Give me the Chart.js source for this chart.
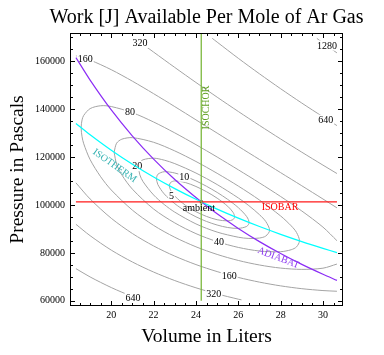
<!DOCTYPE html>
<html><head><meta charset="utf-8">
<script src="https://cdn.jsdelivr.net/npm/chart.js@4.4.0/dist/chart.umd.min.js"></script>
<style>html,body{margin:0;padding:0;background:#fff}</style>
</head><body>
<canvas id="c" width="384" height="355"></canvas>
<script>
// ---- data (V in liters, P in pascals) ----
const chartTitle = 'Work [J] Available Per Mole of Ar Gas';
const xTicks = [20, 22, 24, 26, 28, 30];
const yTicks = [60000, 80000, 100000, 120000, 140000, 160000];
const ambient = [24.25, 101325];

// contour lines of available work [J]
const c5 = [[22.737,108067],[22.8,109386],[23,110058],[23.5,109379],[24,107734],[24.5,105537],[25,102856],[25.5,99470],[25.75,96958],[25.825,95145],[25.75,93886],[25.5,93371],[25,93853],[24.5,95227],[24,97210],[23.5,99896],[23,103734],[22.8,106185],[22.737,108067]];
const c10 = [[22.128,111041],[22.2,112828],[22.5,113891],[23,113359],[23.5,111951],[24,110059],[24.5,107814],[25,105255],[25.5,102342],[26,98899],[26.4,95130],[26.51,92652],[26.4,91081],[26,90243],[25.5,90605],[25,91642],[24.5,93131],[24,95070],[23.5,97501],[23,100561],[22.5,104641],[22.2,108545],[22.128,111041]];
const c20 = [[21.29,115410],[21.35,117609],[21.5,118879],[22,119551],[22.5,118729],[23,117280],[24,113345],[25,108537],[26,102954],[26.5,99732],[27,95956],[27.3,93083],[27.48,89415],[27.3,87053],[27,86209],[26.5,86037],[26,86548],[25,88693],[24,92111],[23,97014],[22.5,100208],[22,104182],[21.5,109759],[21.35,112568],[21.29,115410]];
const c40 = [[20.134,122039],[20.25,125781],[20.5,127484],[21,128110],[22,126185],[23,122579],[24,118167],[25,113225],[26,107906],[27,102080],[28,95415],[28.5,91293],[28.75,88542],[28.89,85051],[28.75,82517],[28.5,81336],[28,80514],[27,80794],[26,82295],[25,84713],[24,88047],[23,92517],[22,98319],[21,106592],[20.5,112549],[20.25,117093],[20.134,122039]];
const c80 = [[30.66,85102],[30,90758],[29,97498],[28,103543],[27,109224],[26,114701],[25,120037],[24,125190],[23,130111],[22,134651],[21,138535],[20,141110],[19.5,141443],[19,140237],[18.7,137429],[18.62,135551],[18.576,132273],[18.62,128478],[18.7,125551],[19,118951],[19.5,111781],[20,106259],[21,97840],[22,91484],[23,86534],[24,82549],[25,79366],[26,76851],[27,74952],[28,73661],[29,73121],[30,73624],[30.66,75349]];
const c160hi = [[18.33,162290],[19,160489],[20,156483],[21,151686],[22,146479],[23,141072],[24,135561],[25,130023],[26,124501],[27,118998],[28,113510],[29,108029],[30,102503],[30.66,98806]];
const c160lo = [[18.33,109251],[19,102514],[20,94452],[21,88082],[22,82906],[23,78650],[24,75126],[25,72201],[26,69764],[27,67799],[28,66237],[29,65064],[30,64278],[30.66,63985]];
const c320hi = [[21.12,169500],[22,163835],[23,157428],[24,151154],[25,145021],[26,139045],[27,133231],[28,127559],[29,122044],[30,116648],[30.66,113143]];
const c320lo = [[18.33,91945],[19,87189],[20,81159],[21,76194],[22,72005],[23,68447],[24,65431],[25,62864],[26,60682],[26.15,60400]];
const c640hi = [[24.77,169580],[25,168010],[26,161249],[27,154772],[28,148541],[29,142557],[30,136813],[30.66,133146]];
const c640lo = [[18.33,73433],[19,69963],[20,65532],[21,61744],[21.4,60400]];
const c1280 = [[29.71,169564],[30,167684],[30.33,165578],[30.66,163505]];

// reference processes through the ambient state
const isothermV = [18.33,19,20,21,22,23,24,25,26,27,28,29,30,30.66];
const isothermP = [134050,129322,122857,117006,111688,106832,102380,98286,94505,91005,87754,84729,81904,80141];
const adiabatV = [18.33,19,20,21,22,23,24.25,25,26,27,28,29,30,30.66];
const adiabatP = [161553,152167,139694,128786,119178,110670,101325,96309,90216,84716,79737,75206,71074,68541];
const isobar = [[18.33,101325],[30.66,101325]];
const isochor = [[24.25,60000],[24.25,175000]];

// contour value labels: [text, V, P]
const contourLabels = [['320',21.36,167635],['1280',30.19,166590],['640',30.13,135612],['160',18.77,161080],['80',20.88,138825],['20',21.23,116284],['10',23.45,111815],['5',22.85,103758],['40',25.09,84553],['160',25.57,70560],['320',24.84,62926],['640',21.03,61300]];
// process labels: [text, V, P]
const processLabels = [['ISOCHOR',24.50,140706],['ISOTHERM',20.16,116367],['ADIABAT',27.89,77872],['ISOBAR',27.97,98956],['ambient',24.14,98539]];

// ---- styling ----
const SERIF = "'Liberation Serif','Times New Roman',serif";
const labelStyle = {
  ISOCHOR: {color:'#5f9f22', angle:-90},
  ISOTHERM: {color:'#35b2b2', angle:35},
  ADIABAT: {color:'#8d3af0', angle:21},
  ISOBAR: {color:'#ff0000', angle:0},
  ambient: {color:'#000000', angle:0}
};

const toPts = arr => arr.map(p => ({x:p[0], y:p[1]}));
const contours = [c5,c10,c20,c40,c80,c160hi,c160lo,c320hi,c320lo,c640hi,c640lo,c1280];
const datasets = contours.map(c => ({
  data: toPts(c), showLine:true, borderColor:'#a4a4a4', borderWidth:1,
  pointRadius:0, tension:0.3, order:1
}));
datasets.push({data: toPts(isochor), showLine:true, borderColor:'#7cb83e', borderWidth:1.3, pointRadius:0, order:0});
datasets.push({data: toPts(isobar), showLine:true, borderColor:'#ff1a1a', borderWidth:1.2, pointRadius:0, order:0});
datasets.push({data: isothermV.map((v,i)=>({x:v,y:isothermP[i]})), showLine:true, borderColor:'#00ffff', borderWidth:1.2, pointRadius:0, tension:0.3, order:0});
datasets.push({data: adiabatV.map((v,i)=>({x:v,y:adiabatP[i]})), showLine:true, borderColor:'#8b2cf5', borderWidth:1.2, pointRadius:0, tension:0.3, order:0});
datasets.push({data: [{x:ambient[0], y:ambient[1]}], showLine:false, pointRadius:2, pointStyle:'rect', backgroundColor:'#000', borderColor:'#000', borderWidth:0, order:0});

const contourLabelPlugin = {
  id:'contourLabels',
  afterDatasetDraw(chart, args) {
    if (args.index !== 0) return;
    const ctx = chart.ctx, xs = chart.scales.x, ys = chart.scales.y;
    ctx.save();
    ctx.font = '10px ' + SERIF;
    ctx.textAlign = 'center'; ctx.textBaseline = 'middle';
    contourLabels.forEach(([t,v,p]) => {
      const x = xs.getPixelForValue(v), y = ys.getPixelForValue(p);
      const w = ctx.measureText(t).width + 2;
      ctx.fillStyle = '#fff';
      ctx.fillRect(x - w/2, y - 5, w, 10);
      ctx.fillStyle = '#000';
      ctx.fillText(t, x, y + 0.5);
    });
    ctx.restore();
  }
};

const framePlugin = {
  id:'frame',
  afterDraw(chart) {
    const ctx = chart.ctx, xs = chart.scales.x, ys = chart.scales.y;
    const {left,right,top,bottom} = chart.chartArea;
    ctx.save();
    // chart title, centred over the frame
    ctx.font = '20px ' + SERIF;
    ctx.fillStyle = '#000';
    ctx.textAlign = 'center'; ctx.textBaseline = 'middle';
    ctx.fillText(chartTitle, (left + right) / 2, 17.5);
    // process labels
    ctx.font = '10px ' + SERIF;
    processLabels.forEach(([t,v,p]) => {
      const st = labelStyle[t];
      ctx.save();
      ctx.translate(xs.getPixelForValue(v), ys.getPixelForValue(p));
      ctx.rotate(st.angle * Math.PI / 180);
      ctx.fillStyle = st.color;
      ctx.fillText(t, 0, 0);
      ctx.restore();
    });
    // frame
    ctx.strokeStyle = '#000'; ctx.lineWidth = 1;
    const L = Math.round(left)+0.5, R = Math.round(right)-0.5, T = Math.round(top)+0.5, B = Math.round(bottom)-0.5;
    ctx.strokeRect(L, T, R-L, B-T);
    // inward ticks on all four sides
    ctx.beginPath();
    const xMin = xs.min, xMax = xs.max, yMin = ys.min, yMax = ys.max;
    for (let v = Math.ceil(xMin*2)/2; v <= xMax; v += 0.5) {
      const major = xTicks.includes(v);
      const len = major ? 4.5 : 2.5;
      const x = Math.round(xs.getPixelForValue(v)) + 0.5;
      ctx.moveTo(x, B); ctx.lineTo(x, B - len);
      ctx.moveTo(x, T); ctx.lineTo(x, T + len);
    }
    for (let v = Math.ceil(yMin/5000)*5000; v <= yMax; v += 5000) {
      const major = yTicks.includes(v);
      const len = major ? 4.5 : 2.5;
      const y = Math.round(ys.getPixelForValue(v)) + 0.5;
      ctx.moveTo(L, y); ctx.lineTo(L + len, y);
      ctx.moveTo(R, y); ctx.lineTo(R - len, y);
    }
    ctx.stroke();
    ctx.restore();
  }
};

const tickFont = {family: SERIF, size: 10};
new Chart(document.getElementById('c'), {
  type: 'scatter',
  data: {datasets},
  options: {
    responsive: false, animation: false, devicePixelRatio: 1,
    layout: {padding: {left:0, right:41, top:33, bottom:0}},
    plugins: {legend: {display:false}, tooltip: {enabled:false}, title: {display:false}},
    scales: {
      x: {
        type:'linear', min:18.05, max:30.946,
        afterBuildTicks: s => { s.ticks = xTicks.map(v => ({value:v})); },
        afterFit: s => { s.height = 49; },
        grid: {display:false, drawTicks:false}, border: {display:false},
        ticks: {padding:3, font:tickFont, color:'#000', maxRotation:0, autoSkip:false, callback: v => String(v)},
        title: {display:true, text:'Volume in Liters', color:'#000', font:{family:SERIF, size:19.5}, padding:{top:0, bottom:6}}
      },
      y: {
        type:'linear', min:57833, max:171810,
        afterBuildTicks: s => { s.ticks = yTicks.map(v => ({value:v})); },
        afterFit: s => { s.width = 70; },
        grid: {display:false, drawTicks:false}, border: {display:false},
        ticks: {padding:5, font:tickFont, color:'#000', autoSkip:false, callback: v => String(v)},
        title: {display:true, text:'Pressure in Pascals', color:'#000', font:{family:SERIF, size:19.5}, padding:{top:6, bottom:0}}
      }
    }
  },
  plugins: [contourLabelPlugin, framePlugin]
});
</script>
</body></html>
